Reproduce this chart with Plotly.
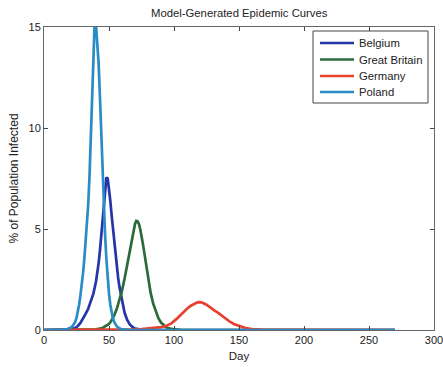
import plotly.graph_objects as go

# ---- data ----
belgium_days = [0, 15, 20, 24, 26, 28, 30, 32, 34, 36, 38, 40, 41, 42, 43, 44, 45, 46, 47, 48, 49, 50,
                51, 52, 53, 54, 55, 56, 57, 58, 60, 62, 64, 66, 68, 70, 75, 80, 270]
belgium_vals = [0, 0.01, 0.03, 0.1, 0.2, 0.35, 0.55, 0.8, 1.05, 1.4, 1.8, 2.4, 2.8, 3.3, 3.9, 4.6, 5.4, 6.3, 7.1, 7.55, 7.5, 7.0,
                6.4, 5.7, 5.0, 4.3, 3.7, 3.1, 2.6, 2.15, 1.4, 0.85, 0.5, 0.28, 0.15, 0.07, 0.02, 0, 0]

britain_days = [0, 30, 40, 45, 48, 50, 52, 54, 56, 58, 60, 62, 64, 66, 68, 70, 71, 72, 73, 74, 76, 78,
                80, 82, 84, 86, 88, 90, 92, 94, 96, 100, 105, 110, 270]
britain_vals = [0, 0.01, 0.03, 0.1, 0.2, 0.3, 0.48, 0.72, 1.05, 1.45, 1.95, 2.55, 3.25, 4.0, 4.7, 5.25, 5.4, 5.38, 5.25, 5.0, 4.3, 3.4,
                2.55, 1.85, 1.3, 0.88, 0.58, 0.37, 0.23, 0.14, 0.08, 0.03, 0.01, 0, 0]

germany_days = [0, 50, 60, 70, 75, 80, 85, 90, 94, 98, 102, 106, 110, 113, 116, 118, 120, 122, 125, 128,
                131, 134, 137, 140, 143, 146, 150, 155, 160, 165, 170, 180, 270]
germany_vals = [0, 0.005, 0.01, 0.03, 0.05, 0.07, 0.1, 0.14, 0.2, 0.33, 0.55, 0.82, 1.05, 1.2, 1.32, 1.37, 1.38, 1.35, 1.25, 1.1,
                0.97, 0.85, 0.7, 0.56, 0.41, 0.3, 0.2, 0.1, 0.05, 0.025, 0.01, 0.005, 0]

poland_days = [0, 10, 16, 18, 20, 22, 24, 25, 26, 27, 28, 29, 30, 31, 32, 33, 34, 35, 36, 37, 38, 39, 40,
               41, 42, 43, 44, 45, 46, 47, 48, 49, 50, 51, 52, 53, 54, 56, 58, 60, 65, 70, 270]
poland_vals = [0, 0, 0.02, 0.05, 0.1, 0.2, 0.4, 0.6, 0.9, 1.25, 1.7, 2.2, 2.8, 3.5, 4.3, 5.3, 6.2, 7.6, 9.4, 11.6, 14.0, 15.3, 15.1,
               14.2, 13.2, 11.6, 9.6, 7.9, 6.2, 4.7, 3.5, 2.5, 1.8, 1.25, 0.85, 0.58, 0.4, 0.18, 0.08, 0.03, 0.01, 0, 0]

series_names = ["Belgium", "Great Britain", "Germany", "Poland"]
series_days = [belgium_days, britain_days, germany_days, poland_days]
series_vals = [belgium_vals, britain_vals, germany_vals, poland_vals]
series_colors = ["#2535a8", "#2b6a3a", "#e8402f", "#2a8cc6"]

x_ticks = [0, 50, 100, 150, 200, 250, 300]
y_ticks = [0, 5, 10, 15]

FONT = "Liberation Sans, Arial, sans-serif"
TXT = "#222222"

W, H = 443, 367
ML, MR, MT, MB = 44, 9, 27, 37
PW, PH = W - ML - MR, H - MT - MB


def px_x(p):
    return (p - ML) / PW


def px_y(p):
    return (H - MB - p) / PH


fig = go.Figure()
for name, d, v, c in zip(series_names, series_days, series_vals, series_colors):
    fig.add_trace(go.Scatter(x=d, y=v, mode="lines", name=name, showlegend=False,
                             line=dict(color=c, width=2.7)))

# legend drawn as a framed box (MATLAB style, compact rows)
shapes = [dict(type="rect", xref="paper", yref="paper",
               x0=px_x(313), x1=px_x(428), y0=px_y(103), y1=px_y(31),
               line=dict(color="#444444", width=1), fillcolor="white", layer="above")]
annotations = []
row_y = [43, 59.5, 76, 92]
for name, c, ry in zip(series_names, series_colors, row_y):
    shapes.append(dict(type="line", xref="paper", yref="paper",
                       x0=px_x(320), x1=px_x(354), y0=px_y(ry), y1=px_y(ry),
                       line=dict(color=c, width=2.6), layer="above"))
    annotations.append(dict(text=name, xref="paper", yref="paper",
                            x=px_x(357), y=px_y(ry), xanchor="left", yanchor="middle",
                            showarrow=False, font=dict(family=FONT, size=11.3, color=TXT)))

axis_common = dict(
    showgrid=False, zeroline=False, showline=True, linecolor="#666666", linewidth=1,
    mirror="ticks", ticks="inside", ticklen=4, tickcolor="#444444", tickwidth=1,
    tickfont=dict(family=FONT, size=11, color=TXT), ticklabeloverflow="allow",
    automargin=False,
)

fig.update_layout(
    width=W, height=H,
    margin=dict(l=ML, r=MR, t=MT, b=MB),
    paper_bgcolor="white", plot_bgcolor="white",
    title=dict(text="Model-Generated Epidemic Curves", x=0.54, xanchor="center",
               y=0.965, yanchor="middle", automargin=False,
               font=dict(family=FONT, size=11.3, color=TXT)),
    xaxis=dict(range=[0, 300], tickvals=x_ticks,
               title=dict(text="Day", font=dict(family=FONT, size=11.5, color=TXT), standoff=6),
               **axis_common),
    yaxis=dict(range=[0, 15], tickvals=y_ticks,
               title=dict(text="% of Population Infected", font=dict(family=FONT, size=12, color=TXT), standoff=7),
               **axis_common),
    showlegend=False,
    shapes=shapes,
    annotations=annotations,
)

fig.write_html("out.html")
